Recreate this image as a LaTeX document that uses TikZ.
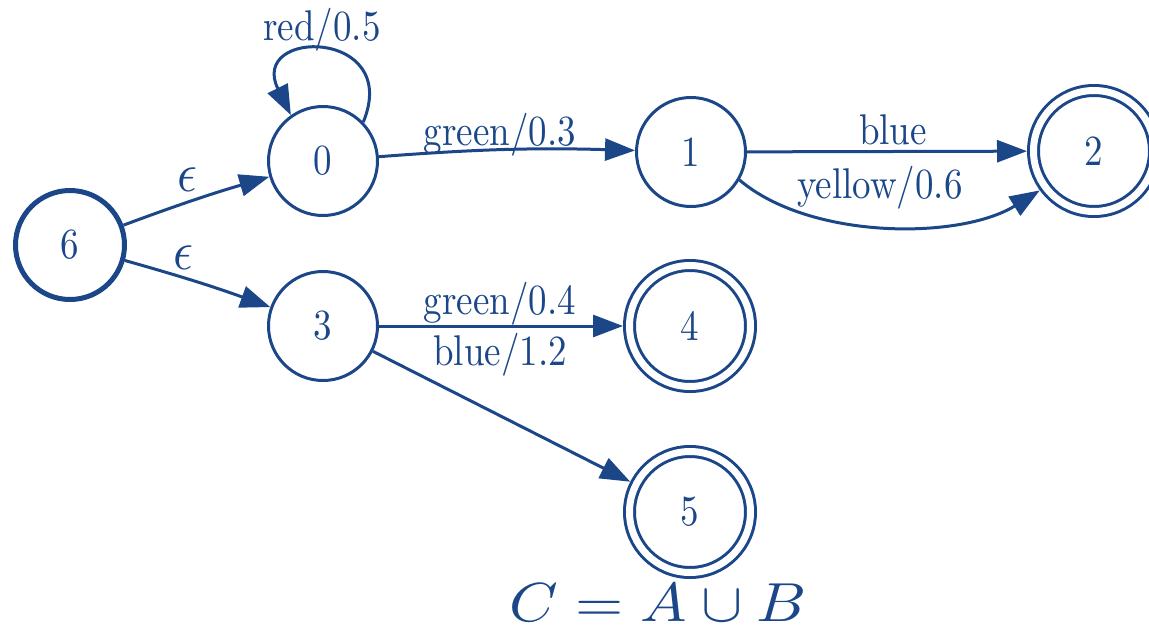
\RequirePackage{fix-cm}
\documentclass[tikz,border=0pt]{standalone}
\usepackage{graphicx}
\usetikzlibrary{arrows.meta}
\definecolor{ink}{RGB}{27,71,137}
\newcommand{\lbx}[1]{\scalebox{3.7}[4.3]{#1}}
\newcommand{\epsx}{\scalebox{4.9}[5.5]{$\epsilon$}}
\begin{document}
\begin{tikzpicture}[x=1pt,y=1pt,
  every node/.style={text=ink, font=\fontsize{10}{12}\selectfont},
  st/.style={circle, draw=ink, line width=3pt, minimum size=109pt, inner sep=0pt},
  acc/.style={circle, draw=ink, line width=3pt, double=white, double distance=7pt, minimum size=121pt, inner sep=0pt, outer sep=6.5pt},
  arr/.style={draw=ink, line width=3pt, -{Triangle[length=30pt,width=22pt]}},
  lab/.style={text=ink, inner sep=0pt}]
\useasboundingbox (0,0) rectangle (1149,-632);
\node[st, line width=5pt, minimum size=109pt] (n6) at (70,-245) {\lbx{6}};
\node[st] (n0) at (323,-161) {\lbx{0}};
\node[st] (n3) at (323,-326) {\lbx{3}};
\node[st] (n1) at (691,-152) {\lbx{1}};
\node[acc] (n2) at (1094,-151) {\lbx{2}};
\node[acc] (n4) at (690,-326) {\lbx{4}};
\node[acc] (n5) at (690,-512) {\lbx{5}};
\draw[arr] (n6) to[bend left=2] (n0);
\draw[arr] (n6) to[bend left=2] (n3);
\draw[arr] (n0.44) .. controls (402,-28) and (248,-28) .. (n0.125);
\draw[arr] (n0) to[bend left=3] (n1);
\draw[arr] (n1) -- (n2);
\draw[arr] (n1.-30) .. controls (810,-240) and (960,-240) .. (n2.-144);
\draw[arr] (n3) -- (n4);
\draw[arr] (n3) -- (n5);
\node[lab] (le1) at (187,-180) {\epsx};
\node[lab] (le2) at (183,-258) {\epsx};
\node[lab] (lred) at (322,-30) {\lbx{red/0.5}};
\node[lab] (lg3) at (500,-135) {\lbx{green/0.3}};
\node[lab] (lblue) at (893,-130) {\lbx{blue}};
\node[lab] (ly) at (880,-188) {\lbx{yellow/0.6}};
\node[lab] (lg4) at (500,-304) {\lbx{green/0.4}};
\node[lab] (lb12) at (500,-355) {\lbx{blue/1.2}};
\node[lab] (cap) at (658,-603) {\scalebox{6.2}[5.5]{$C = A\cup B$}};
\end{tikzpicture}
\end{document}
